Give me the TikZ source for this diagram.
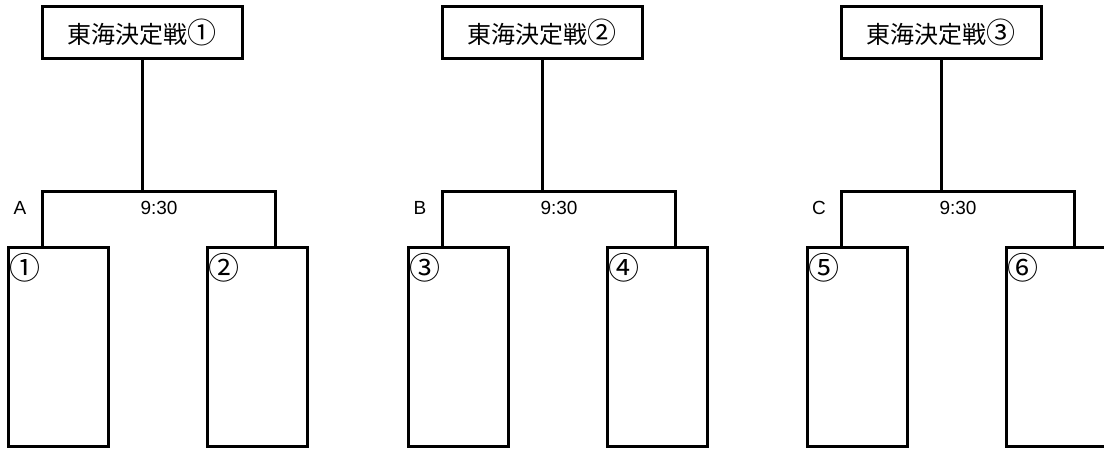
\documentclass[tikz,border=0pt]{standalone}
\usepackage{fontspec}
\setmainfont{Liberation Sans}
\newfontfamily\cjk{Noto Sans CJK JP}
\begin{document}
\begin{tikzpicture}[x=1pt,y=-1pt,
  line width=3pt,
  titlebox/.style={draw,rectangle,minimum width=200pt,minimum height=52pt,inner sep=0pt,font=\cjk\fontsize{24}{24}\selectfont},
  entrybox/.style={draw,rectangle,minimum width=100pt,minimum height=199pt,inner sep=0pt},
  lbl/.style={inner sep=0pt,font=\fontsize{19}{19}\selectfont},
  num/.style={inner sep=0pt,font=\cjk\fontsize{31}{31}\selectfont}]
\useasboundingbox (0,0) rectangle (1104,448);
\foreach \g/\dx/\L/\na/\nb/\nc in {1/0/A/①/②/①, 2/400/B/③/④/②, 3/799/C/⑤/⑥/③}{
  \node[titlebox] (t\g) at (142+\dx,32) {東海決定戦{\fontsize{29}{24}\selectfont\nc}};
  \coordinate (bl\g) at (42+\dx,191);
  \coordinate (br\g) at (275+\dx,191);
  \node[entrybox] (ea\g) at (58+\dx,346.5) {};
  \node[entrybox] (eb\g) at (257+\dx,346.5) {};
  \draw (t\g.south) -- (t\g.south |- bl\g);
  \draw (ea\g.north -| bl\g) -- (bl\g) -- (br\g) -- (eb\g.north -| br\g);
  \node[lbl] (lab\g) at (20+\dx,208) {\L};
  \node[lbl] (time\g) at (159+\dx,208) {9:30};
  \node[num] (na\g) at (25+\dx,267.5) {\na};
  \node[num] (nb\g) at (224+\dx,267.5) {\nb};
}
\end{tikzpicture}
\end{document}
